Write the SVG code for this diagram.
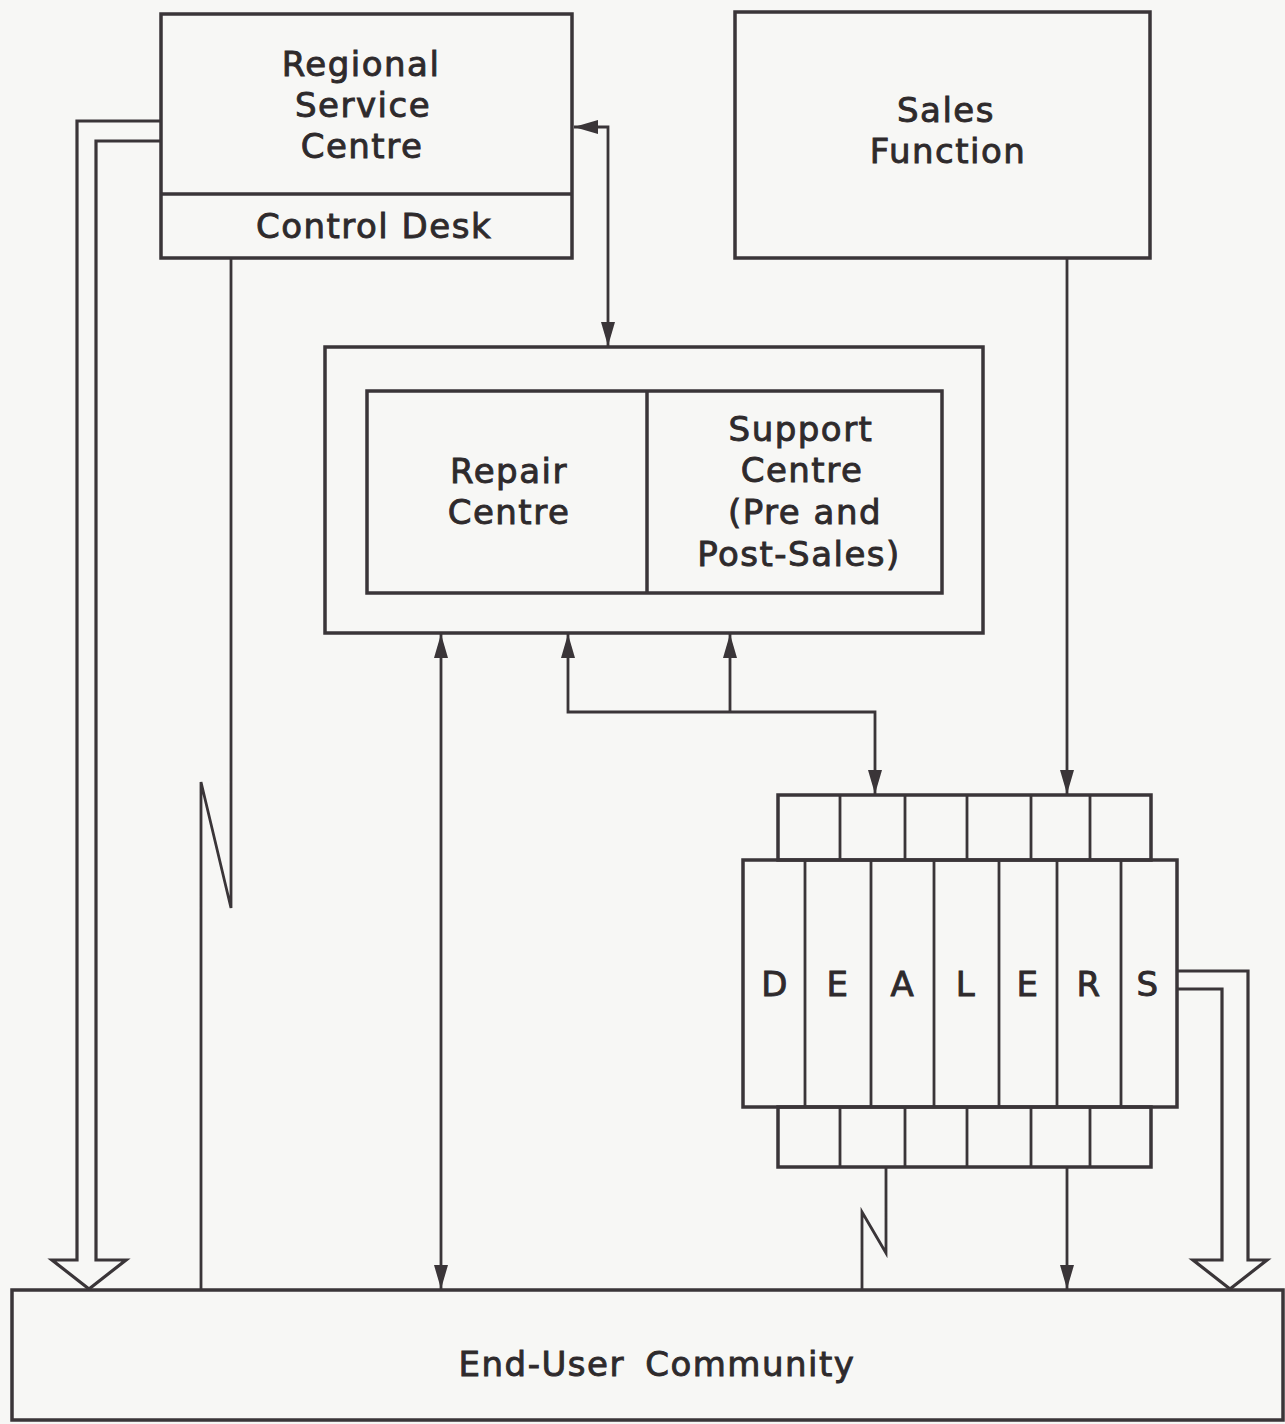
<svg xmlns="http://www.w3.org/2000/svg" width="1285" height="1424" viewBox="0 0 1285 1424">
<defs>
<style>
.b{fill:none;stroke:#3a3538;stroke-width:3.5}
.l{fill:none;stroke:#3a3538;stroke-width:2.8}
.h{fill:none;stroke:#3a3538;stroke-width:3.2;stroke-linejoin:miter}
text{font-family:"DejaVu Sans",sans-serif;font-size:34px;fill:#2e2a2c;stroke:#2e2a2c;stroke-width:0.9;text-anchor:middle;letter-spacing:1.5px}
</style>
<marker id="ah" viewBox="0 0 24 14" refX="24" refY="7" markerWidth="24" markerHeight="14" markerUnits="userSpaceOnUse" orient="auto-start-reverse">
<path d="M0,0 L24,7 L0,14 Z" fill="#3a3538"/>
</marker>
</defs>
<rect width="1285" height="1424" fill="#f7f7f5"/>
<g id="regional">
<rect class="b" x="161" y="14" width="411" height="244"/>
<line class="b" x1="161" y1="194" x2="572" y2="194"/>
<text x="361" y="76">Regional</text>
<text x="363" y="117">Service</text>
<text x="362" y="158">Centre</text>
<text x="374" y="238">Control Desk</text>
</g>
<g id="sales">
<rect class="b" x="735" y="12" width="415" height="246"/>
<text x="946" y="122">Sales</text>
<text x="948" y="163">Function</text>
</g>
<g id="centre">
<rect class="b" x="325" y="347" width="658" height="286"/>
<rect class="b" x="367" y="391" width="575" height="202"/>
<line class="b" x1="647" y1="391" x2="647" y2="593"/>
<text x="509" y="483">Repair</text>
<text x="509" y="524">Centre</text>
<text x="801" y="441">Support</text>
<text x="802" y="482">Centre</text>
<text x="805" y="524">(Pre and</text>
<text x="799" y="566">Post-Sales)</text>
</g>
<g id="dealers">
<rect class="b" x="778" y="795" width="373" height="65"/>
<rect class="b" x="778" y="1107" width="373" height="60"/>
<g class="l">
<line x1="840" y1="795" x2="840" y2="860"/><line x1="905" y1="795" x2="905" y2="860"/><line x1="967" y1="795" x2="967" y2="860"/><line x1="1031" y1="795" x2="1031" y2="860"/><line x1="1090" y1="795" x2="1090" y2="860"/>
<line x1="840" y1="1107" x2="840" y2="1167"/><line x1="905" y1="1107" x2="905" y2="1167"/><line x1="967" y1="1107" x2="967" y2="1167"/><line x1="1031" y1="1107" x2="1031" y2="1167"/><line x1="1090" y1="1107" x2="1090" y2="1167"/>
<line x1="805" y1="860" x2="805" y2="1107"/><line x1="871" y1="860" x2="871" y2="1107"/><line x1="934" y1="860" x2="934" y2="1107"/><line x1="999" y1="860" x2="999" y2="1107"/><line x1="1057" y1="860" x2="1057" y2="1107"/><line x1="1121" y1="860" x2="1121" y2="1107"/>
</g>
<rect class="b" x="743" y="860" width="434" height="247"/>
<text x="775" y="996">D</text>
<text x="838" y="996">E</text>
<text x="903" y="996">A</text>
<text x="966" y="996">L</text>
<text x="1028" y="996">E</text>
<text x="1089" y="996">R</text>
<text x="1148" y="996">S</text>
</g>
<g id="enduser">
<rect class="b" x="12" y="1290" width="1271" height="130"/>
<text x="657" y="1376" style="word-spacing:8px">End-User Community</text>
</g>
<g id="connectors">
<path class="h" d="M161,121 L77,121 L77,1260 L52,1260 L89,1289 L126,1260 L96,1260 L96,141 L161,141"/>
<path class="h" d="M1177,971 L1248,971 L1248,1260 L1267,1260 L1230,1289 L1193,1260 L1222,1260 L1222,989 L1177,989"/>
<path class="l" d="M231,258 L231,908 L201,782 L201,1290"/>
<path class="l" d="M886,1167 L886,1253 L862,1212 L862,1290"/>
<path class="l" d="M574,127 L608,127 L608,346" marker-start="url(#ah)" marker-end="url(#ah)"/>
<path class="l" d="M441,634 L441,1289" marker-start="url(#ah)" marker-end="url(#ah)"/>
<path class="l" d="M568,634 L568,712 L875,712 L875,794" marker-start="url(#ah)" marker-end="url(#ah)"/>
<path class="l" d="M730,712 L730,634" marker-end="url(#ah)"/>
<path class="l" d="M1067,258 L1067,794" marker-end="url(#ah)"/>
<path class="l" d="M1067,1167 L1067,1289" marker-end="url(#ah)"/>
</g>
</svg>
